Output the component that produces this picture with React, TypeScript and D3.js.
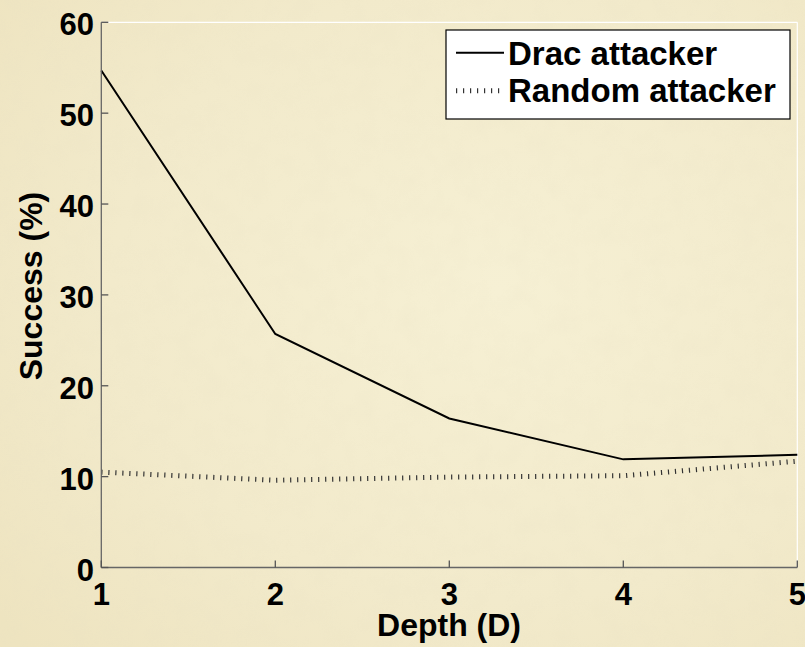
import React from "react";
import * as d3 from "d3";

const depths = [1, 2, 3, 4, 5];
const dracSuccess = [54.7, 25.7, 16.4, 11.9, 12.4];
const randomSuccess = [10.5, 9.6, 9.95, 10.1, 11.7];
const yTicks = [0, 10, 20, 30, 40, 50, 60];
const xTicks = [1, 2, 3, 4, 5];
const seriesNames = ["Drac attacker", "Random attacker"];

const W = 805;
const H = 647;
const FONT = "'Liberation Sans', Arial, Helvetica, sans-serif";

export default function App() {
  const x = d3.scaleLinear().domain([1, 5]).range([101.3, 797.3]);
  const y = d3.scaleLinear().domain([0, 60]).range([567.5, 22.3]);
  const line = d3
    .line<number>()
    .x((_, i) => x(depths[i]))
    .y((d) => y(d));

  const left = x(1);
  const right = x(5);
  const top = y(60);
  const bottom = y(0);

  return (
    <svg
      width={W}
      height={H}
      style={{ position: "absolute", left: 0, top: 0 }}
      xmlns="http://www.w3.org/2000/svg"
    >
      <defs>
        <radialGradient id="bg" cx="0.62" cy="0.45" r="0.8">
          <stop offset="0" stopColor="#f6f0d4" />
          <stop offset="0.6" stopColor="#f2eacb" />
          <stop offset="1" stopColor="#eee4c0" />
        </radialGradient>
        <filter id="noise" x="0" y="0" width="100%" height="100%">
          <feTurbulence type="fractalNoise" baseFrequency="0.045" numOctaves="3" seed="7" result="t" />
          <feColorMatrix
            in="t"
            type="matrix"
            values="0 0 0 0 0.8  0 0 0 0 0.74  0 0 0 0 0.55  0 0 0 1.2 -0.45"
          />
        </filter>
      </defs>
      <rect x={0} y={0} width={W} height={H} fill="url(#bg)" />
      <rect x={0} y={0} width={W} height={H} filter="url(#noise)" opacity={0.22} />

      {/* box: white top and right */}
      <line x1={left} x2={right} y1={top} y2={top} stroke="#ffffff" strokeWidth={1.2} />
      <line x1={right} x2={right} y1={top} y2={bottom} stroke="#ffffff" strokeWidth={1.2} />

      {/* series */}
      <path
        d={line(randomSuccess) || ""}
        fill="none"
        stroke="#333"
        strokeWidth={5}
        strokeDasharray="1.2 5.8"
      />
      <path d={line(dracSuccess) || ""} fill="none" stroke="#000" strokeWidth={2} />

      {/* axes */}
      <line x1={left} x2={left} y1={top} y2={bottom} stroke="#666" strokeWidth={1.3} />
      <line x1={left} x2={right} y1={bottom} y2={bottom} stroke="#666" strokeWidth={1.3} />
      {yTicks.map((t) => (
        <g key={"y" + t}>
          <line x1={left} x2={left + 7} y1={y(t)} y2={y(t)} stroke="#555" strokeWidth={1.3} />
          <text
            x={94}
            y={y(t) + 13}
            textAnchor="end"
            fontFamily={FONT}
            fontWeight="bold"
            fontSize={31}
            fill="#000"
          >
            {t}
          </text>
        </g>
      ))}
      {xTicks.map((t) => (
        <g key={"x" + t}>
          <line x1={x(t)} x2={x(t)} y1={bottom} y2={bottom - 7} stroke="#555" strokeWidth={1.3} />
          <text
            x={x(t)}
            y={605}
            textAnchor="middle"
            fontFamily={FONT}
            fontWeight="bold"
            fontSize={31}
            fill="#000"
          >
            {t}
          </text>
        </g>
      ))}

      <text
        x={449}
        y={636}
        textAnchor="middle"
        fontFamily={FONT}
        fontWeight="bold"
        fontSize={32}
        fill="#000"
      >
        Depth (D)
      </text>
      <text
        transform="translate(42,286) rotate(-90)"
        textAnchor="middle"
        fontFamily={FONT}
        fontWeight="bold"
        fontSize={32}
        fill="#000"
      >
        Success (%)
      </text>

      {/* legend */}
      <rect x={446} y={30} width={344} height={89} fill="#fff" stroke="#000" strokeWidth={1.2} />
      <line x1={456} x2={504} y1={52.7} y2={52.7} stroke="#000" strokeWidth={2} />
      <text x={508} y={65} fontFamily={FONT} fontWeight="bold" fontSize={33} fill="#000">
        {seriesNames[0]}
      </text>
      <line
        x1={456}
        x2={504}
        y1={90.7}
        y2={90.7}
        stroke="#333"
        strokeWidth={5}
        strokeDasharray="1.2 5.8"
      />
      <text x={508} y={102} fontFamily={FONT} fontWeight="bold" fontSize={33} fill="#000">
        {seriesNames[1]}
      </text>
    </svg>
  );
}
